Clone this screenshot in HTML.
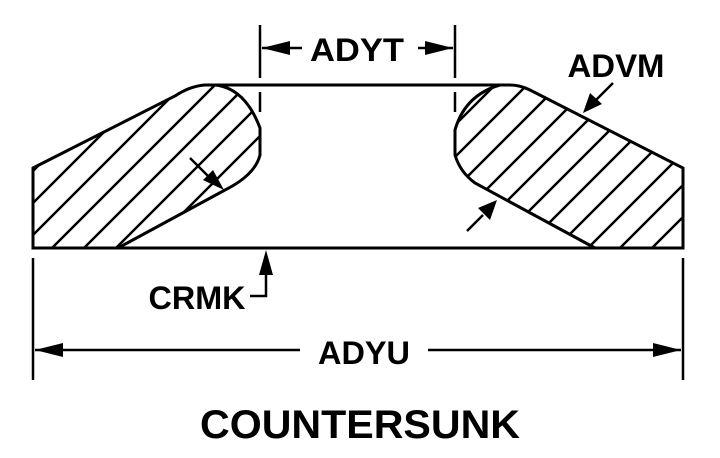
<!DOCTYPE html>
<html><head><style>body{margin:0;background:#fff}svg{display:block}text{font-family:"Liberation Sans",sans-serif;font-weight:bold;fill:#000}</style></head><body>
<svg width="720" height="458" viewBox="0 0 720 458" xmlns="http://www.w3.org/2000/svg">
<defs>
<clipPath id="L"><path d="M33,168 L175,96 Q190,86 205,85 L215,85 Q245,88 260,128 L260,155 Q255,175 225,190 L118,248 L33,248 Z"/></clipPath>
<clipPath id="R"><path d="M683,168 L530,90 Q520,85 510,85 L500,85 Q465,95 455,130 L455,155 Q460,172 475,183 L595,248 L683,248 Z"/></clipPath>
<g id="h" stroke="#000" stroke-width="2.5">
<line x1="0" y1="300" x2="300" y2="0"/><line x1="32" y1="300" x2="332" y2="0"/><line x1="64" y1="300" x2="364" y2="0"/><line x1="96" y1="300" x2="396" y2="0"/><line x1="128" y1="300" x2="428" y2="0"/><line x1="160" y1="300" x2="460" y2="0"/><line x1="192" y1="300" x2="492" y2="0"/><line x1="224" y1="300" x2="524" y2="0"/><line x1="256" y1="300" x2="556" y2="0"/><line x1="288" y1="300" x2="588" y2="0"/><line x1="320" y1="300" x2="620" y2="0"/><line x1="352" y1="300" x2="652" y2="0"/><line x1="384" y1="300" x2="684" y2="0"/><line x1="416" y1="300" x2="716" y2="0"/><line x1="448" y1="300" x2="748" y2="0"/><line x1="480" y1="300" x2="780" y2="0"/><line x1="512" y1="300" x2="812" y2="0"/><line x1="544" y1="300" x2="844" y2="0"/><line x1="576" y1="300" x2="876" y2="0"/><line x1="608" y1="300" x2="908" y2="0"/><line x1="640" y1="300" x2="940" y2="0"/><line x1="672" y1="300" x2="972" y2="0"/><line x1="704" y1="300" x2="1004" y2="0"/>
<line x1="-32" y1="300" x2="268" y2="0"/><line x1="-64" y1="300" x2="236" y2="0"/><line x1="-96" y1="300" x2="204" y2="0"/>
</g>
</defs>
<g clip-path="url(#L)"><use href="#h"/></g>
<g clip-path="url(#R)"><use href="#h" transform="translate(-8,0)"/></g>
<g fill="none" stroke="#000" stroke-width="3">
<path d="M33,168 L175,96 Q190,86 205,85 L510,85 Q520,85 530,90 L683,168 L683,248 L33,248 Z"/>
<path d="M205,85 L215,85 Q245,88 260,128 L260,155 Q255,175 225,190 L118,248"/>
<path d="M500,85 Q465,95 455,130 L455,155 Q460,172 475,183 L595,248"/>
</g>
<g stroke="#000" stroke-width="2.5" fill="none">
<line x1="260" y1="25" x2="260" y2="78"/><line x1="260" y1="92" x2="260" y2="112"/>
<line x1="455" y1="25" x2="455" y2="78"/><line x1="455" y1="92" x2="455" y2="112"/>
<line x1="262" y1="48" x2="302" y2="48"/><line x1="418" y1="48" x2="453" y2="48"/>
<line x1="33" y1="258" x2="33" y2="380"/><line x1="683" y1="258" x2="683" y2="380"/>
<line x1="35" y1="350" x2="300" y2="350"/><line x1="428" y1="350" x2="681" y2="350"/>
<polyline points="250,296 266,296 266,270"/>
<line x1="190" y1="158" x2="210" y2="178"/>
<line x1="613" y1="83" x2="595" y2="101"/>
<line x1="467" y1="231" x2="483" y2="215"/>
</g>
<g fill="#000">
<polygon points="262,48 290,41 290,55"/><polygon points="453,48 425,41 425,55"/>
<polygon points="35,350 63,343 63,357"/><polygon points="681,350 653,343 653,357"/>
<polygon points="266,250 259,275 273,275"/>
<polygon points="224,190 203,180 213,170"/>
<polygon points="583,113 590,93 602,104"/>
<polygon points="497,200 490,220 478,208"/>
</g>
<text x="357" y="61" font-size="32" text-anchor="middle" textLength="94" lengthAdjust="spacingAndGlyphs">ADYT</text>
<text x="616" y="77" font-size="32" text-anchor="middle" textLength="97" lengthAdjust="spacingAndGlyphs">ADVM</text>
<text x="197" y="309" font-size="32" text-anchor="middle" textLength="97" lengthAdjust="spacingAndGlyphs">CRMK</text>
<text x="364" y="364" font-size="32" text-anchor="middle" textLength="92" lengthAdjust="spacingAndGlyphs">ADYU</text>
<text x="360" y="438" font-size="40" text-anchor="middle" textLength="320" lengthAdjust="spacingAndGlyphs">COUNTERSUNK</text>
</svg>
</body></html>
